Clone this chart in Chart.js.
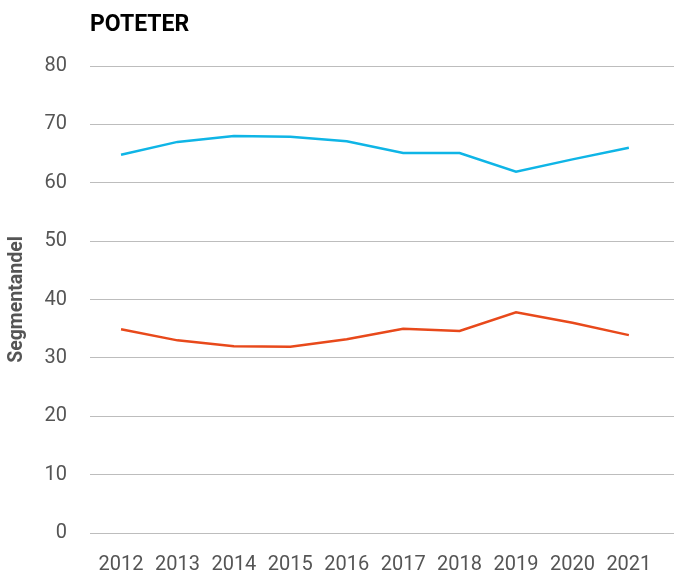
<!DOCTYPE html>
<html>
<head>
<meta charset="utf-8">
<script src="https://cdn.jsdelivr.net/npm/chart.js@4"></script>
<style>
  html, body { margin: 0; padding: 0; background: #fff; }
  #wrap { width: 674px; height: 571px; }
</style>
</head>
<body>
<div id="wrap"><canvas id="chart"></canvas></div>
<script>
// data
const years = [2012, 2013, 2014, 2015, 2016, 2017, 2018, 2019, 2020, 2021];
const blueValues = [64.8, 67.0, 68.0, 67.9, 67.1, 65.1, 65.1, 61.9, 64.0, 66.0];
const redValues = [34.9, 33.0, 32.0, 31.9, 33.2, 35.0, 34.6, 37.8, 36.0, 33.9];
const yTicks = [0, 10, 20, 30, 40, 50, 60, 70, 80];

const fontFam = "Roboto, 'Liberation Sans', Arial, sans-serif";

function toPoints(vals) {
  return years.map((y, i) => ({ x: y, y: vals[i] }));
}

new Chart(document.getElementById('chart'), {
  type: 'line',
  data: {
    datasets: [
      {
        label: 'Serie 1',
        data: toPoints(blueValues),
        borderColor: '#0fb5e6',
        borderWidth: 2.5,
        pointRadius: 0,
        tension: 0,
        fill: false
      },
      {
        label: 'Serie 2',
        data: toPoints(redValues),
        borderColor: '#e8491b',
        borderWidth: 2.5,
        pointRadius: 0,
        tension: 0,
        fill: false
      }
    ]
  },
  options: {
    responsive: true,
    maintainAspectRatio: false,
    animation: false,
    layout: { padding: 0 },
    plugins: {
      legend: { display: false },
      tooltip: { enabled: false },
      title: {
        display: true,
        text: 'POTETER',
        align: 'start',
        fullSize: false,
        color: '#000',
        font: { family: fontFam, size: 23, weight: 'bold' },
        padding: { top: 11, bottom: 27.4 }
      }
    },
    scales: {
      x: {
        type: 'linear',
        min: 2011.45,
        max: 2021.8,
        grid: { display: false, drawTicks: false },
        border: { display: false },
        afterBuildTicks: axis => { axis.ticks = years.map(v => ({ value: v })); },
        afterFit: axis => { axis.height = 38; },
        ticks: {
          color: '#555',
          font: { family: fontFam, size: 20 },
          padding: 20,
          maxRotation: 0,
          autoSkip: false,
          callback: v => String(v)
        }
      },
      y: {
        min: 0,
        max: 80,
        afterBuildTicks: axis => { axis.ticks = yTicks.map(v => ({ value: v })); },
        afterFit: axis => { axis.width = 90; },
        grid: { color: '#bdbdbd', lineWidth: 1, drawTicks: false },
        border: { display: false },
        ticks: {
          color: '#555',
          font: { family: fontFam, size: 20 },
          padding: 23
        },
        title: {
          display: true,
          text: 'Segmentandel',
          color: '#555',
          font: { family: fontFam, size: 19.5, weight: 'bold' },
          padding: { top: 5, bottom: 0 }
        }
      }
    }
  }
});
</script>
</body>
</html>
